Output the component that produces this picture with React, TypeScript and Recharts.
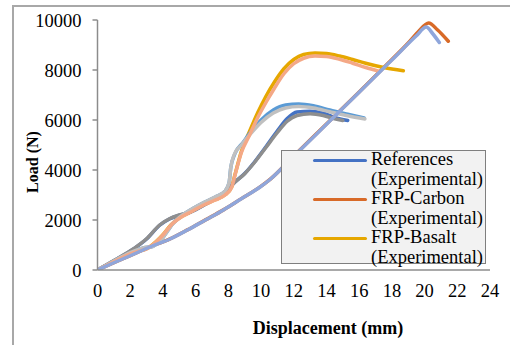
import React from 'react';
import { LineChart, Line, XAxis, YAxis } from 'recharts';

const xTicks = [0, 2, 4, 6, 8, 10, 12, 14, 16, 18, 20, 22, 24];
const yTicks = [0, 2000, 4000, 6000, 8000, 10000];

const refExp = [
  { x: 0, y: 0 }, { x: 1, y: 370 }, { x: 2.2, y: 840 }, { x: 3, y: 1240 }, { x: 3.8, y: 1790 },
  { x: 4.4, y: 2040 }, { x: 5, y: 2190 }, { x: 5.7, y: 2320 }, { x: 6.5, y: 2590 }, { x: 7.3, y: 2890 },
  { x: 7.9, y: 3140 }, { x: 8.3, y: 3450 }, { x: 9, y: 3860 }, { x: 9.6, y: 4320 }, { x: 10.3, y: 4930 },
  { x: 11, y: 5570 }, { x: 11.6, y: 6060 }, { x: 12.2, y: 6320 }, { x: 13, y: 6350 }, { x: 13.8, y: 6270 },
  { x: 14.5, y: 6100 }, { x: 15.3, y: 5980 },
];
const carbonExp = [
  { x: 0, y: 0 }, { x: 1, y: 290 }, { x: 2, y: 575 }, { x: 3.2, y: 925 }, { x: 4.4, y: 1235 },
  { x: 5.5, y: 1605 }, { x: 6.6, y: 2005 }, { x: 7.7, y: 2405 }, { x: 8.8, y: 2855 }, { x: 9.9, y: 3305 },
  { x: 10.55, y: 3625 }, { x: 12, y: 4560 }, { x: 14, y: 5840 }, { x: 16, y: 7120 }, { x: 18, y: 8420 },
  { x: 19, y: 9080 }, { x: 19.6, y: 9520 }, { x: 20.25, y: 9880 }, { x: 20.8, y: 9600 }, { x: 21.45, y: 9150 },
];
const basaltExp = [
  { x: 0, y: 0 }, { x: 1, y: 340 }, { x: 2, y: 660 }, { x: 3.2, y: 930 }, { x: 4, y: 1410 },
  { x: 4.5, y: 1810 }, { x: 5.2, y: 2160 }, { x: 5.8, y: 2360 }, { x: 6.5, y: 2610 }, { x: 7.2, y: 2810 },
  { x: 7.8, y: 3010 }, { x: 8.2, y: 3320 }, { x: 8.4, y: 3800 }, { x: 8.8, y: 4750 }, { x: 9.3, y: 5550 },
  { x: 9.8, y: 6300 }, { x: 10.3, y: 6950 }, { x: 10.8, y: 7500 }, { x: 11.4, y: 8050 }, { x: 12, y: 8420 },
  { x: 12.6, y: 8620 }, { x: 13.3, y: 8680 }, { x: 14, y: 8660 }, { x: 14.8, y: 8560 }, { x: 15.6, y: 8420 },
  { x: 16.4, y: 8270 }, { x: 17.5, y: 8100 }, { x: 18.7, y: 7970 },
];
const refB = [
  { x: 0, y: 0 }, { x: 1, y: 360 }, { x: 2, y: 700 }, { x: 2.8, y: 880 }, { x: 3.4, y: 950 },
  { x: 4, y: 1300 }, { x: 4.6, y: 1850 }, { x: 5.2, y: 2200 }, { x: 5.8, y: 2450 }, { x: 6.5, y: 2700 },
  { x: 7.2, y: 2920 }, { x: 7.8, y: 3150 }, { x: 8.05, y: 3500 }, { x: 8.15, y: 4100 }, { x: 8.4, y: 4650 },
  { x: 8.9, y: 5100 }, { x: 9.3, y: 5470 }, { x: 10, y: 6000 }, { x: 10.75, y: 6400 }, { x: 11.5, y: 6600 },
  { x: 12.3, y: 6640 }, { x: 13.2, y: 6570 }, { x: 14.2, y: 6400 }, { x: 15.3, y: 6230 }, { x: 16.3, y: 6080 },
];
const refC = [
  { x: 0, y: 0 }, { x: 1, y: 380 }, { x: 2.2, y: 850 }, { x: 3, y: 1250 }, { x: 3.8, y: 1800 },
  { x: 4.4, y: 2050 }, { x: 5, y: 2200 }, { x: 5.7, y: 2330 }, { x: 6.5, y: 2600 }, { x: 7.3, y: 2900 },
  { x: 7.9, y: 3150 }, { x: 8.3, y: 3450 }, { x: 9, y: 3850 }, { x: 9.6, y: 4300 }, { x: 10.3, y: 4900 },
  { x: 11, y: 5500 }, { x: 11.6, y: 5950 }, { x: 12.2, y: 6180 }, { x: 13, y: 6250 }, { x: 13.8, y: 6180 },
  { x: 14.5, y: 6050 }, { x: 15, y: 5980 },
];
const refD = [
  { x: 0, y: 0 }, { x: 1, y: 360 }, { x: 2, y: 700 }, { x: 2.8, y: 880 }, { x: 3.4, y: 950 },
  { x: 4, y: 1300 }, { x: 4.6, y: 1850 }, { x: 5.2, y: 2200 }, { x: 5.8, y: 2450 }, { x: 6.5, y: 2700 },
  { x: 7.2, y: 2920 }, { x: 7.8, y: 3150 }, { x: 8.05, y: 3500 }, { x: 8.15, y: 4100 }, { x: 8.35, y: 4600 },
  { x: 8.8, y: 5000 }, { x: 9.3, y: 5400 }, { x: 10, y: 5900 }, { x: 10.75, y: 6280 }, { x: 11.5, y: 6480 },
  { x: 12.3, y: 6540 }, { x: 13.2, y: 6480 }, { x: 14.2, y: 6330 }, { x: 15.3, y: 6170 }, { x: 16.35, y: 6040 },
];
const basaltB = [
  { x: 0, y: 0 }, { x: 1, y: 330 }, { x: 2, y: 650 }, { x: 3.2, y: 920 }, { x: 4, y: 1400 },
  { x: 4.5, y: 1800 }, { x: 5.2, y: 2150 }, { x: 5.8, y: 2350 }, { x: 6.5, y: 2600 }, { x: 7.2, y: 2800 },
  { x: 7.8, y: 3000 }, { x: 8.2, y: 3300 }, { x: 8.45, y: 3900 }, { x: 8.8, y: 4700 }, { x: 9.3, y: 5400 },
  { x: 9.8, y: 6100 }, { x: 10.3, y: 6700 }, { x: 10.8, y: 7250 }, { x: 11.4, y: 7850 }, { x: 12, y: 8250 },
  { x: 12.6, y: 8470 }, { x: 13.3, y: 8560 }, { x: 14, y: 8540 }, { x: 14.8, y: 8430 }, { x: 15.6, y: 8270 },
  { x: 16.4, y: 8100 }, { x: 17.2, y: 7950 },
];
const carbonB = [
  { x: 0, y: 0 }, { x: 1, y: 290 }, { x: 2, y: 570 }, { x: 3.2, y: 920 }, { x: 4.4, y: 1230 },
  { x: 5.5, y: 1600 }, { x: 6.6, y: 2000 }, { x: 7.7, y: 2400 }, { x: 8.8, y: 2850 }, { x: 9.9, y: 3300 },
  { x: 10.55, y: 3620 }, { x: 12, y: 4550 }, { x: 14, y: 5830 }, { x: 16, y: 7110 }, { x: 18, y: 8400 },
  { x: 19.5, y: 9370 }, { x: 20.1, y: 9720 }, { x: 20.5, y: 9450 }, { x: 20.9, y: 9100 },
];

const legendItems = [
  { name: 'References (Experimental)', color: '#4472C4' },
  { name: 'FRP-Carbon (Experimental)', color: '#D86A28' },
  { name: 'FRP-Basalt (Experimental)', color: '#E6A700' },
];

const series = [
  { key: 'refExp', data: refExp, color: '#4472C4' },
  { key: 'carbonExp', data: carbonExp, color: '#D86A28' },
  { key: 'basaltExp', data: basaltExp, color: '#E6A700' },
  { key: 'refB', data: refB, color: '#5B9BD5' },
  { key: 'refC', data: refC, color: '#8E8E8E' },
  { key: 'refD', data: refD, color: '#C0C0C0' },
  { key: 'basaltB', data: basaltB, color: '#F4A886' },
  { key: 'carbonB', data: carbonB, color: '#8FA6DB' },
];

const font = '"Liberation Serif", "Times New Roman", serif';

export default function App() {
  return (
    <div style={{ position: 'absolute', left: 0, top: 0, width: 510, height: 345, overflow: 'hidden', background: '#fff', fontFamily: font }}>
      <div style={{ position: 'absolute', left: 12, top: 5, width: 600, height: 500, borderLeft: '2px solid #a8a8a8', borderTop: '2px solid #a8a8a8' }} />
      <div style={{ position: 'absolute', left: 0, top: 0 }}>
        <LineChart width={510} height={345} margin={{ top: 20, right: 20, left: 0, bottom: 0 }}>
          <XAxis
            type="number"
            dataKey="x"
            domain={[0, 24]}
            ticks={xTicks}
            interval={0}
            height={75}
            tickSize={0}
            tickMargin={14}
            axisLine={{ stroke: '#8c8c8c', strokeWidth: 1.5 }}
            tick={{ fill: '#000', fontSize: 18.5, fontFamily: font }}
            allowDataOverflow
          />
          <YAxis
            type="number"
            dataKey="y"
            domain={[0, 10000]}
            ticks={yTicks}
            interval={0}
            width={97.5}
            tickSize={5}
            tickMargin={11}
            axisLine={{ stroke: '#8c8c8c', strokeWidth: 1.5 }}
            tickLine={{ stroke: '#8c8c8c', strokeWidth: 1.5 }}
            tick={{ fill: '#000', fontSize: 18.5, fontFamily: font }}
            allowDataOverflow
          />
          {series.map((s) => (
            <Line
              key={s.key}
              data={s.data}
              dataKey="y"
              type="monotone"
              stroke={s.color}
              strokeWidth={3.5}
              dot={false}
              activeDot={false}
              isAnimationActive={false}
              strokeLinecap="round"
            />
          ))}
        </LineChart>
      </div>
      <div style={{ position: 'absolute', left: 281, top: 150, width: 203, height: 112, background: '#F2F2F2', border: '1.5px solid #7F7F7F' }}>
        {legendItems.map((it, i) => (
          <div key={it.name} style={{ position: 'absolute', left: 0, top: i * 39, width: 203, height: 39 }}>
            <div style={{ position: 'absolute', left: 31, top: 7.5, width: 54, height: 3.5, background: it.color, borderRadius: 2 }} />
            <div style={{ position: 'absolute', left: 89, top: -1, width: 116, fontSize: 18.5, lineHeight: '19.5px', color: '#000' }}>
              {it.name}
            </div>
          </div>
        ))}
      </div>
      <div style={{ position: 'absolute', left: 228, top: 318, width: 200, textAlign: 'center', fontSize: 18, fontWeight: 'bold', color: '#000' }}>
        Displacement (mm)
      </div>
      <div style={{ position: 'absolute', left: 33, top: 162, width: 0, height: 0 }}>
        <div style={{ position: 'absolute', left: -50, top: -10, width: 100, height: 20, lineHeight: '20px', textAlign: 'center', fontSize: 16, fontWeight: 'bold', color: '#000', transform: 'rotate(-90deg)', whiteSpace: 'nowrap' }}>
          Load (N)
        </div>
      </div>
    </div>
  );
}
